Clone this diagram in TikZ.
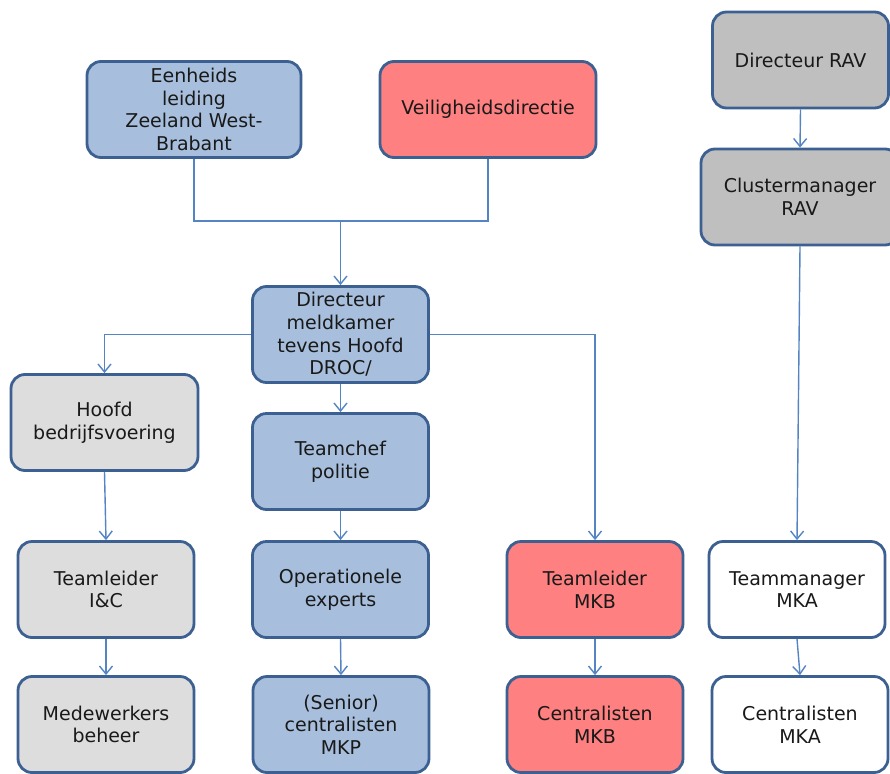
\documentclass[tikz,border=0pt]{standalone}
\usepackage{fontspec}
\setmainfont{DejaVu Sans}
\usetikzlibrary{positioning}
\usetikzlibrary{arrows.meta}

\definecolor{boxblue}{RGB}{167,191,221}
\definecolor{boxred}{RGB}{255,128,128}
\definecolor{boxgrey}{RGB}{191,191,191}
\definecolor{boxlight}{RGB}{221,221,221}
\definecolor{boxedge}{RGB}{60,96,145}
\definecolor{linkblue}{RGB}{84,132,196}

\tikzset{
	unit/.style={draw=boxedge, line width=2.8pt, rounded corners=14pt,
		align=center, minimum width=176pt, minimum height=96pt, inner sep=2pt,
		font=\fontsize{19}{22.6}\selectfont, text=black!90},
	politie/.style={unit, fill=boxblue},
	brand/.style={unit, fill=boxred},
	ambu/.style={unit, fill=boxgrey},
	bedrijf/.style={unit, fill=boxlight},
	mka/.style={unit, fill=white},
	tie/.style={draw=linkblue, line width=1.4pt},
	link/.style={tie, -{Straight Barb[length=8pt,width=13pt,line width=1.4pt]}},
}

\begin{document}
\begin{tikzpicture}[x=1pt, y=-1pt]

	\clip (0,0) rectangle (890,773);
	\useasboundingbox (0,0) rectangle (890,773);

	% top: the two bodies above the meldkamer
	\node[politie, minimum width=214pt] (eenheid) at (194,109.5) {Eenheids\\leiding\\Zeeland West-\\Brabant};
	\node[brand, minimum width=216pt] (veilig) at (488,109.5) {Veiligheidsdirectie};

	% RAV column
	\node[ambu] (dirrav) at (800.5,60) {Directeur RAV};
	\node[ambu, minimum width=198pt] (cluster) at (800,197) {Clustermanager\\RAV};

	% meldkamer
	\node[politie] (dirmk) at (340.5,334.5) {Directeur\\meldkamer\\tevens Hoofd\\DROC/};
	\node[bedrijf, minimum width=187pt] (hoofd) at (104.5,422.5) {Hoofd\\bedrijfsvoering};
	\node[politie] (teamchef) at (340.5,461.5) {Teamchef\\politie};

	% teamleiders
	\node[bedrijf] (tlic) at (106,589.5) {Teamleider\\I\&C};
	\node[politie] (opexp) at (340.5,589.5) {Operationele\\experts};
	\node[brand] (tlmkb) at (595,589.5) {Teamleider\\MKB};
	\node[mka] (tmmka) at (797,589.5) {Teammanager\\MKA};

	% uitvoering
	\node[bedrijf] (beheer) at (106,724.5) {Medewerkers\\beheer};
	\node[politie] (cmkp) at (341,724.5) {(Senior)\\centralisten\\MKP};
	\node[brand] (cmkb) at (595,724.5) {Centralisten\\MKB};
	\node[mka] (cmka) at (800,724.5) {Centralisten\\MKA};

	% connectors
	\coordinate (join) at (340.5,221);
	\draw[tie] (eenheid.south) |- (join);
	\draw[tie] (veilig.south) |- (join);
	\draw[link] (join) -- (dirmk.north);

	\draw[link] (dirmk.west) -| (hoofd.north);
	\draw[link] (dirmk.east) -| (tlmkb.north);
	\draw[link] (dirmk.south) -- (teamchef.north);

	\draw[link] (hoofd.south) -- (tlic.north);
	\draw[link] (teamchef.south) -- (opexp.north);
	\draw[link] (tlic.south) -- (beheer.north);
	\draw[link] (opexp.south) -- (cmkp.north);
	\draw[link] (tlmkb.south) -- (cmkb.north);

	\draw[link] (dirrav.south) -- (cluster.north);
	\draw[link] (cluster.south) -- (tmmka.north);
	\draw[link] (tmmka.south) -- (cmka.north);

\end{tikzpicture}
\end{document}
